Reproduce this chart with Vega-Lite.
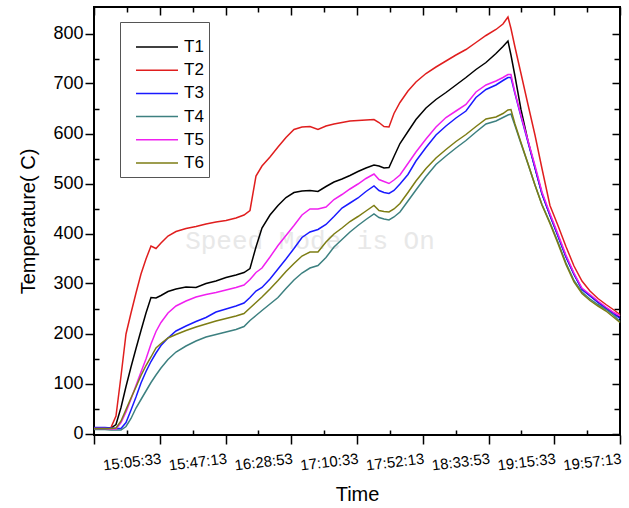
{
 "$schema": "https://vega.github.io/schema/vega-lite/v6.json",
 "width": 526, "height": 428,
 "autosize": {"type": "none"},
 "padding": {"left": 94, "top": 7, "right": 9, "bottom": 73},
 "background": "white",
 "datasets": {"temps": [
  {"time":"2024-01-01T14:23:53","T1":10,"T2":10,"T3":12,"T4":8,"T5":10,"T6":10},
  {"time":"2024-01-01T14:30:51","T1":10,"T2":10,"T3":12,"T4":8,"T5":10,"T6":10},
  {"time":"2024-01-01T14:34:39","T1":11,"T2":12,"T3":11,"T4":7,"T5":9,"T6":10},
  {"time":"2024-01-01T14:37:49","T1":18,"T2":35,"T3":10,"T4":7,"T5":9,"T6":11},
  {"time":"2024-01-01T14:41:00","T1":52,"T2":115,"T3":10,"T4":7,"T5":22,"T6":25},
  {"time":"2024-01-01T14:44:10","T1":94,"T2":199,"T3":22,"T4":14,"T5":43,"T6":48},
  {"time":"2024-01-01T14:47:20","T1":133,"T2":241,"T3":47,"T4":30,"T5":69,"T6":71},
  {"time":"2024-01-01T14:50:30","T1":170,"T2":281,"T3":73,"T4":51,"T5":96,"T6":93},
  {"time":"2024-01-01T14:53:40","T1":206,"T2":319,"T3":101,"T4":68,"T5":123,"T6":116},
  {"time":"2024-01-01T14:56:50","T1":241,"T2":349,"T3":124,"T4":85,"T5":149,"T6":136},
  {"time":"2024-01-01T15:00:00","T1":272,"T2":375,"T3":144,"T4":102,"T5":179,"T6":153},
  {"time":"2024-01-01T15:03:10","T1":271,"T2":370,"T3":161,"T4":117,"T5":204,"T6":171},
  {"time":"2024-01-01T15:06:20","T1":276,"T2":381,"T3":176,"T4":131,"T5":222,"T6":180},
  {"time":"2024-01-01T15:10:46","T1":284,"T2":395,"T3":191,"T4":148,"T5":241,"T6":191},
  {"time":"2024-01-01T15:15:51","T1":289,"T2":404,"T3":205,"T4":163,"T5":255,"T6":198},
  {"time":"2024-01-01T15:22:11","T1":293,"T2":410,"T3":215,"T4":175,"T5":265,"T6":206},
  {"time":"2024-01-01T15:28:31","T1":292,"T2":414,"T3":224,"T4":185,"T5":273,"T6":213},
  {"time":"2024-01-01T15:34:51","T1":300,"T2":419,"T3":232,"T4":193,"T5":278,"T6":219},
  {"time":"2024-01-01T15:41:11","T1":305,"T2":423,"T3":243,"T4":198,"T5":282,"T6":225},
  {"time":"2024-01-01T15:47:32","T1":312,"T2":426,"T3":249,"T4":203,"T5":287,"T6":230},
  {"time":"2024-01-01T15:53:52","T1":317,"T2":431,"T3":255,"T4":208,"T5":292,"T6":235},
  {"time":"2024-01-01T15:58:56","T1":322,"T2":437,"T3":261,"T4":214,"T5":297,"T6":240},
  {"time":"2024-01-01T16:02:44","T1":330,"T2":446,"T3":272,"T4":226,"T5":308,"T6":251},
  {"time":"2024-01-01T16:06:32","T1":373,"T2":515,"T3":285,"T4":236,"T5":322,"T6":262},
  {"time":"2024-01-01T16:10:20","T1":411,"T2":535,"T3":292,"T4":246,"T5":331,"T6":273},
  {"time":"2024-01-01T16:15:25","T1":437,"T2":553,"T3":309,"T4":259,"T5":353,"T6":289},
  {"time":"2024-01-01T16:20:29","T1":456,"T2":573,"T3":329,"T4":272,"T5":376,"T6":306},
  {"time":"2024-01-01T16:25:33","T1":472,"T2":592,"T3":349,"T4":290,"T5":396,"T6":324},
  {"time":"2024-01-01T16:30:37","T1":482,"T2":608,"T3":370,"T4":307,"T5":416,"T6":340},
  {"time":"2024-01-01T16:35:41","T1":485,"T2":613,"T3":392,"T4":321,"T5":437,"T6":355},
  {"time":"2024-01-01T16:40:45","T1":486,"T2":614,"T3":403,"T4":331,"T5":449,"T6":363},
  {"time":"2024-01-01T16:45:49","T1":484,"T2":608,"T3":408,"T4":336,"T5":449,"T6":363},
  {"time":"2024-01-01T16:50:54","T1":494,"T2":615,"T3":418,"T4":352,"T5":453,"T6":383},
  {"time":"2024-01-01T16:55:58","T1":503,"T2":619,"T3":434,"T4":373,"T5":468,"T6":399},
  {"time":"2024-01-01T17:01:02","T1":509,"T2":622,"T3":451,"T4":388,"T5":478,"T6":411},
  {"time":"2024-01-01T17:06:06","T1":516,"T2":625,"T3":461,"T4":403,"T5":489,"T6":424},
  {"time":"2024-01-01T17:11:10","T1":524,"T2":626,"T3":471,"T4":416,"T5":499,"T6":434},
  {"time":"2024-01-01T17:16:14","T1":531,"T2":627,"T3":484,"T4":428,"T5":510,"T6":445},
  {"time":"2024-01-01T17:21:19","T1":537,"T2":628,"T3":495,"T4":439,"T5":519,"T6":456},
  {"time":"2024-01-01T17:24:29","T1":535,"T2":622,"T3":486,"T4":432,"T5":508,"T6":446},
  {"time":"2024-01-01T17:27:39","T1":531,"T2":614,"T3":482,"T4":429,"T5":504,"T6":444},
  {"time":"2024-01-01T17:30:49","T1":532,"T2":613,"T3":480,"T4":427,"T5":500,"T6":443},
  {"time":"2024-01-01T17:33:59","T1":554,"T2":640,"T3":486,"T4":433,"T5":507,"T6":449},
  {"time":"2024-01-01T17:37:47","T1":580,"T2":662,"T3":499,"T4":443,"T5":517,"T6":460},
  {"time":"2024-01-01T17:42:51","T1":604,"T2":685,"T3":518,"T4":465,"T5":540,"T6":482},
  {"time":"2024-01-01T17:47:55","T1":628,"T2":703,"T3":545,"T4":487,"T5":563,"T6":505},
  {"time":"2024-01-01T17:54:16","T1":651,"T2":720,"T3":572,"T4":514,"T5":589,"T6":530},
  {"time":"2024-01-01T18:00:36","T1":668,"T2":733,"T3":597,"T4":538,"T5":613,"T6":551},
  {"time":"2024-01-01T18:06:56","T1":682,"T2":745,"T3":615,"T4":555,"T5":632,"T6":568},
  {"time":"2024-01-01T18:13:16","T1":697,"T2":757,"T3":631,"T4":571,"T5":645,"T6":584},
  {"time":"2024-01-01T18:19:36","T1":712,"T2":768,"T3":645,"T4":586,"T5":658,"T6":598},
  {"time":"2024-01-01T18:25:57","T1":728,"T2":782,"T3":672,"T4":603,"T5":683,"T6":614},
  {"time":"2024-01-01T18:32:17","T1":742,"T2":796,"T3":688,"T4":619,"T5":697,"T6":629},
  {"time":"2024-01-01T18:38:37","T1":760,"T2":808,"T3":697,"T4":625,"T5":705,"T6":633},
  {"time":"2024-01-01T18:43:03","T1":774,"T2":819,"T3":706,"T4":632,"T5":712,"T6":640},
  {"time":"2024-01-01T18:46:13","T1":785,"T2":833,"T3":712,"T4":637,"T5":718,"T6":647},
  {"time":"2024-01-01T18:48:07","T1":757,"T2":810,"T3":712,"T4":639,"T5":718,"T6":648},
  {"time":"2024-01-01T18:50:39","T1":715,"T2":773,"T3":680,"T4":616,"T5":682,"T6":619},
  {"time":"2024-01-01T18:54:28","T1":648,"T2":720,"T3":634,"T4":580,"T5":636,"T6":582},
  {"time":"2024-01-01T18:58:54","T1":585,"T2":658,"T3":583,"T4":539,"T5":586,"T6":540},
  {"time":"2024-01-01T19:03:20","T1":532,"T2":597,"T3":531,"T4":497,"T5":536,"T6":497},
  {"time":"2024-01-01T19:07:46","T1":480,"T2":530,"T3":479,"T4":458,"T5":483,"T6":457},
  {"time":"2024-01-01T19:12:50","T1":437,"T2":456,"T3":436,"T4":422,"T5":440,"T6":420},
  {"time":"2024-01-01T19:17:54","T1":396,"T2":416,"T3":395,"T4":383,"T5":399,"T6":380},
  {"time":"2024-01-01T19:22:58","T1":354,"T2":374,"T3":353,"T4":341,"T5":357,"T6":338},
  {"time":"2024-01-01T19:28:03","T1":319,"T2":335,"T3":318,"T4":306,"T5":321,"T6":303},
  {"time":"2024-01-01T19:33:07","T1":289,"T2":305,"T3":288,"T4":283,"T5":291,"T6":280},
  {"time":"2024-01-01T19:38:11","T1":276,"T2":285,"T3":275,"T4":269,"T5":278,"T6":266},
  {"time":"2024-01-01T19:43:15","T1":263,"T2":270,"T3":262,"T4":258,"T5":265,"T6":255},
  {"time":"2024-01-01T19:48:19","T1":251,"T2":258,"T3":250,"T4":248,"T5":253,"T6":245},
  {"time":"2024-01-01T19:53:23","T1":240,"T2":247,"T3":239,"T4":236,"T5":242,"T6":232},
  {"time":"2024-01-01T19:57:12","T1":232,"T2":238,"T3":230,"T4":224,"T5":235,"T6":222}
 ]},
 "layer": [
  {
   "data": {"values": [{"note": "Speed Mode is On"}]},
   "mark": {"type": "text", "font": "Liberation Mono", "fontSize": 26, "color": "#e8e8e8", "align": "center", "baseline": "middle"},
   "encoding": {
    "x": {"datum": {"year": 2024, "month": 1, "date": 1, "hours": 16, "minutes": 40, "seconds": 45}, "type": "temporal",
      "scale": {"domain": [{"year": 2024, "month": 1, "date": 1, "hours": 14, "minutes": 23, "seconds": 53}, {"year": 2024, "month": 1, "date": 1, "hours": 19, "minutes": 57, "seconds": 13}]},
      "axis": {"orient": "top", "title": null, "labels": false, "domain": false,
        "values": [
         {"year":2024,"month":1,"date":1,"hours":14,"minutes":23,"seconds":53},
         {"year":2024,"month":1,"date":1,"hours":14,"minutes":44,"seconds":43},
         {"year":2024,"month":1,"date":1,"hours":15,"minutes":5,"seconds":33},
         {"year":2024,"month":1,"date":1,"hours":15,"minutes":26,"seconds":23},
         {"year":2024,"month":1,"date":1,"hours":15,"minutes":47,"seconds":13},
         {"year":2024,"month":1,"date":1,"hours":16,"minutes":8,"seconds":3},
         {"year":2024,"month":1,"date":1,"hours":16,"minutes":28,"seconds":53},
         {"year":2024,"month":1,"date":1,"hours":16,"minutes":49,"seconds":43},
         {"year":2024,"month":1,"date":1,"hours":17,"minutes":10,"seconds":33},
         {"year":2024,"month":1,"date":1,"hours":17,"minutes":31,"seconds":23},
         {"year":2024,"month":1,"date":1,"hours":17,"minutes":52,"seconds":13},
         {"year":2024,"month":1,"date":1,"hours":18,"minutes":13,"seconds":3},
         {"year":2024,"month":1,"date":1,"hours":18,"minutes":33,"seconds":53},
         {"year":2024,"month":1,"date":1,"hours":18,"minutes":54,"seconds":43},
         {"year":2024,"month":1,"date":1,"hours":19,"minutes":15,"seconds":33},
         {"year":2024,"month":1,"date":1,"hours":19,"minutes":36,"seconds":23},
         {"year":2024,"month":1,"date":1,"hours":19,"minutes":57,"seconds":13}
        ],
        "tickSize": {"condition": {"test": "seconds(datum.value) % 20 != 13", "value": -5}, "value": -8}}},
    "y": {"datum": 386, "type": "quantitative",
      "scale": {"domain": [-3, 853], "nice": false, "zero": false},
      "axis": {"orient": "right", "title": null, "labels": false, "domain": false,
        "values": [0,50,100,150,200,250,300,350,400,450,500,550,600,650,700,750,800],
        "tickSize": {"condition": {"test": "datum.value % 100 != 0", "value": -6}, "value": -8}}},
    "text": {"field": "note"}
   }
  },
  {
   "data": {"name": "temps"},
   "transform": [{"fold": ["T1","T2","T3","T4","T5","T6"], "as": ["series","temp"]}],
   "mark": {"type": "line", "strokeWidth": 1.5},
   "encoding": {
    "x": {"field": "time", "type": "temporal",
      "scale": {"domain": [{"year": 2024, "month": 1, "date": 1, "hours": 14, "minutes": 23, "seconds": 53}, {"year": 2024, "month": 1, "date": 1, "hours": 19, "minutes": 57, "seconds": 13}]},
      "axis": {"orient": "bottom", "title": "Time", "domain": false,
        "values": [
         {"year":2024,"month":1,"date":1,"hours":14,"minutes":23,"seconds":53},
         {"year":2024,"month":1,"date":1,"hours":14,"minutes":44,"seconds":43},
         {"year":2024,"month":1,"date":1,"hours":15,"minutes":5,"seconds":33},
         {"year":2024,"month":1,"date":1,"hours":15,"minutes":26,"seconds":23},
         {"year":2024,"month":1,"date":1,"hours":15,"minutes":47,"seconds":13},
         {"year":2024,"month":1,"date":1,"hours":16,"minutes":8,"seconds":3},
         {"year":2024,"month":1,"date":1,"hours":16,"minutes":28,"seconds":53},
         {"year":2024,"month":1,"date":1,"hours":16,"minutes":49,"seconds":43},
         {"year":2024,"month":1,"date":1,"hours":17,"minutes":10,"seconds":33},
         {"year":2024,"month":1,"date":1,"hours":17,"minutes":31,"seconds":23},
         {"year":2024,"month":1,"date":1,"hours":17,"minutes":52,"seconds":13},
         {"year":2024,"month":1,"date":1,"hours":18,"minutes":13,"seconds":3},
         {"year":2024,"month":1,"date":1,"hours":18,"minutes":33,"seconds":53},
         {"year":2024,"month":1,"date":1,"hours":18,"minutes":54,"seconds":43},
         {"year":2024,"month":1,"date":1,"hours":19,"minutes":15,"seconds":33},
         {"year":2024,"month":1,"date":1,"hours":19,"minutes":36,"seconds":23},
         {"year":2024,"month":1,"date":1,"hours":19,"minutes":57,"seconds":13}
        ],
        "labelExpr": "seconds(datum.value) % 20 == 13 && hours(datum.value) != 14 ? timeFormat(datum.value, '%H:%M:%S') : ''",
        "labelAngle": -7, "labelAlign": "right", "labelBaseline": "top",
        "labelFontSize": 15, "labelPadding": 7, "labelOverlap": false, "labelFlush": false, "labelBound": false,
        "tickSize": {"condition": {"test": "seconds(datum.value) % 20 != 13", "value": -5}, "value": 9},
        "titleFontSize": 20, "titlePadding": 11}},
    "y": {"field": "temp", "type": "quantitative",
      "scale": {"domain": [-3, 853], "nice": false, "zero": false},
      "axis": {"orient": "left", "title": "Temperature( C)", "domain": false,
        "values": [0,50,100,150,200,250,300,350,400,450,500,550,600,650,700,750,800],
        "labelExpr": "datum.value % 100 == 0 ? datum.label : ''",
        "labelFontSize": 18, "labelPadding": 2, "labelOverlap": false, "labelBound": false,
        "tickSize": {"condition": {"test": "datum.value % 100 != 0", "value": -5}, "value": 9},
        "titleFontSize": 20, "titlePadding": 14}},
    "color": {"field": "series", "type": "nominal",
      "scale": {"domain": ["T1","T2","T3","T4","T5","T6"], "range": ["#000000","#e01e1e","#1a1aff","#3d8080","#f020f0","#7d7d14"]},
      "legend": {"orient": "none", "legendX": 26, "legendY": 15, "title": " ", "titleFontSize": 8, "titlePadding": 3,
        "symbolType": "stroke", "symbolSize": 1764, "symbolStrokeWidth": 1.5, "clipHeight": 18, "rowPadding": 5.2,
        "labelFontSize": 17, "labelOffset": 5, "padding": 5, "symbolOffset": 10,
        "strokeColor": "#555555", "fillColor": "#ffffff"}}
   }
  }
 ],
 "resolve": {"axis": {"x": "independent", "y": "independent"}},
 "config": {
  "view": {"stroke": "#000000", "strokeWidth": 2},
  "font": "Liberation Sans",
  "axis": {"grid": false, "tickColor": "#000000", "tickWidth": 1.5, "labelColor": "#000000", "titleColor": "#000000",
    "labelFont": "Liberation Sans", "titleFont": "Liberation Sans", "titleFontWeight": "normal"},
  "legend": {"labelFont": "Liberation Sans", "labelColor": "#000000"}
 }
}
